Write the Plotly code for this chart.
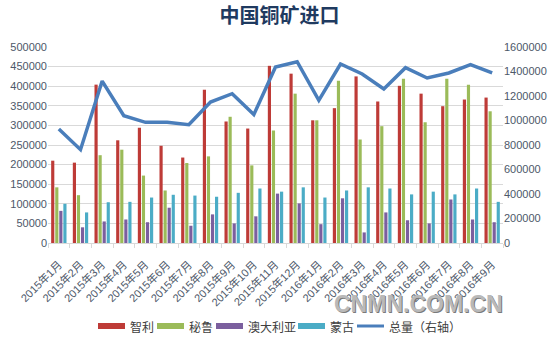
import plotly.graph_objects as go

months = ["2015年1月", "2015年2月", "2015年3月", "2015年4月", "2015年5月", "2015年6月",
          "2015年7月", "2015年8月", "2015年9月", "2015年10月", "2015年11月", "2015年12月",
          "2016年1月", "2016年2月", "2016年3月", "2016年4月", "2016年5月", "2016年6月",
          "2016年7月", "2016年8月", "2016年9月"]
chile = [210000, 205000, 404000, 262000, 294000, 248000, 218000, 391000, 310000, 292000, 452000,
         432000, 313000, 344000, 425000, 361000, 401000, 381000, 349000, 366000, 371000]
peru = [142000, 122000, 224000, 238000, 172000, 134000, 204000, 221000, 322000, 198000, 287000,
        381000, 313000, 414000, 264000, 298000, 419000, 308000, 419000, 404000, 336000]
australia = [82000, 40000, 55000, 60000, 53000, 90000, 44000, 73000, 50000, 68000, 126000,
             101000, 48000, 114000, 27000, 78000, 58000, 50000, 111000, 60000, 53000]
mongolia = [100000, 78000, 104000, 105000, 116000, 123000, 121000, 118000, 128000, 139000, 131000,
            142000, 116000, 134000, 142000, 139000, 124000, 131000, 124000, 139000, 105000]
total = [930000, 762000, 1322000, 1039000, 985000, 985000, 966000, 1151000, 1219000, 1048000, 1437000,
         1480000, 1165000, 1461000, 1380000, 1257000, 1431000, 1347000, 1388000, 1456000, 1388000]

series_names = ["智利", "秘鲁", "澳大利亚", "蒙古", "总量（右轴）"]
bar_series = [chile, peru, australia, mongolia]
colors = ["#BE3B37", "#9BBB59", "#7B5F9E", "#4BACC6", "#4A7EBB"]

left_ticks = list(range(0, 500001, 50000))
right_ticks = list(range(0, 1600001, 200000))

FONT = "Liberation Sans, Noto Sans CJK SC, sans-serif"
TICKC = "#4d5869"

# plot-area geometry in pixels
L, R, T, B = 48, 503, 47, 243
W, H = 559, 338


def px(x):
    return (x - L) / (R - L)


def py(y):
    return (B - y) / (B - T)


fig = go.Figure()
for name, vals, col in zip(series_names[:4], bar_series, colors[:4]):
    fig.add_trace(go.Bar(x=months, y=vals, name=name, marker=dict(color=col, line=dict(width=0))))
fig.add_trace(go.Scatter(x=months, y=total, name=series_names[4], yaxis="y2", mode="lines",
                         line=dict(color=colors[4], width=3.5)))

fig.update_layout(
    width=W, height=H,
    margin=dict(l=L, r=W - R, t=T, b=H - B, autoexpand=False),
    paper_bgcolor="white", plot_bgcolor="white",
    font=dict(family=FONT, size=11, color=TICKC),
    barmode="group", bargap=0.25, bargroupgap=0.22,
    showlegend=False,
    title=dict(text="<b>中国铜矿进口</b>", x=0.5, xanchor="center", y=1 - 16 / H, yanchor="middle",
               font=dict(family="Noto Sans CJK SC", size=20, color="#1F3A60")),
    xaxis=dict(type="category", tickangle=-45, tickson="boundaries", ticks="outside", ticklen=4,
               tickcolor="#D9D9D9", showline=True, linecolor="#D9D9D9", showgrid=False,
               automargin=False, ticklabelstandoff=10,
               tickfont=dict(size=11, color=TICKC)),
    yaxis=dict(range=[0, 500000], tickvals=left_ticks, ticktext=[str(v) for v in left_ticks],
               showgrid=True, gridcolor="#D9D9D9", zeroline=False, showline=False, automargin=False,
               tickfont=dict(size=11, color=TICKC)),
    yaxis2=dict(range=[0, 1600000], tickvals=right_ticks, ticktext=[str(v) for v in right_ticks],
                overlaying="y", side="right", showgrid=False, zeroline=False, showline=False,
                automargin=False, tickfont=dict(size=11, color=TICKC)),
)

# watermark (centred at about x=418, y=304 px)
wx, wy = px(418), py(304)
fig.add_annotation(x=wx, y=wy, xref="paper", yref="paper", text="<b>CNMN.COM.CN</b>",
                   showarrow=False, xanchor="center", yanchor="middle", xshift=1, yshift=-1,
                   font=dict(family="Liberation Sans", size=23, color="#7a7a7a"))
fig.add_annotation(x=wx, y=wy, xref="paper", yref="paper", text="<b>CNMN.COM.CN</b>",
                   showarrow=False, xanchor="center", yanchor="middle",
                   font=dict(family="Liberation Sans", size=23, color="#b9b9b9"))

# legend drawn manually (wide swatches like the original)
leg_y = 326
swatch_x = [98, 157, 216, 298, 357]
for i, (name, col, sx) in enumerate(zip(series_names, colors, swatch_x)):
    if i < 4:
        fig.add_shape(type="rect", xref="paper", yref="paper",
                      x0=px(sx), x1=px(sx + 27), y0=py(leg_y + 3), y1=py(leg_y - 3),
                      fillcolor=col, line=dict(width=0))
    else:
        fig.add_shape(type="line", xref="paper", yref="paper",
                      x0=px(sx), x1=px(sx + 27), y0=py(leg_y), y1=py(leg_y),
                      line=dict(color=col, width=3))
    fig.add_annotation(x=px(sx + 30), y=py(leg_y), xref="paper", yref="paper", text=name,
                       showarrow=False, xanchor="left", yanchor="middle",
                       font=dict(family="Noto Sans CJK SC", size=12, color="#404040"))

fig.write_html("out.html")
